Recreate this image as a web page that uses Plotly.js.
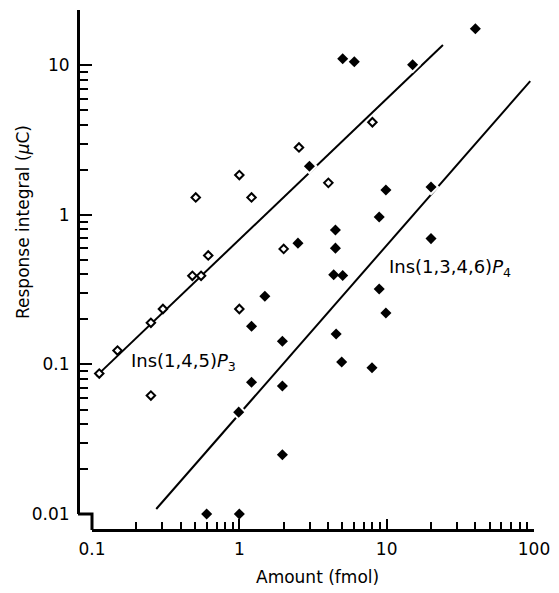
<!DOCTYPE html>
<html>
<head>
<meta charset="utf-8">
<script src="https://cdn.plot.ly/plotly-3.0.1.min.js"></script>
<style>html,body{margin:0;padding:0;background:#fff;}#chart{width:559px;height:593px;}</style>
</head>
<body>
<div id="chart"></div>
<script>
// Ins(1,4,5)P3 — open diamonds
const p3Amount   = [0.112, 0.149, 0.251, 0.303, 0.251, 0.48, 0.55, 0.615, 0.506, 1.0, 1.21, 1.0, 2.0, 2.54, 4.02, 8.0];
const p3Response = [0.087, 0.124, 0.19, 0.235, 0.062, 0.392, 0.392, 0.536, 1.31, 1.85, 1.31, 0.235, 0.593, 2.83, 1.64, 4.17];

// Ins(1,3,4,6)P4 — filled diamonds
const p4Amount   = [40, 5.03, 6.03, 15.0, 2.99, 9.88, 20, 8.9, 4.49, 4.49, 2.5, 20, 4.37, 5.03, 8.9, 1.49, 9.88, 4.54, 4.95, 7.95, 1.96, 1.96, 1.96, 1.21, 1.21, 0.99, 0.6, 1.0];
const p4Response = [17.6, 11.1, 10.6, 10.1, 2.12, 1.47, 1.54, 0.97, 0.794, 0.6, 0.648, 0.695, 0.398, 0.394, 0.32, 0.286, 0.221, 0.16, 0.104, 0.095, 0.143, 0.0717, 0.0249, 0.18, 0.076, 0.048, 0.01, 0.01];

// Regression lines (end points)
const p3FitX = [0.107, 24.1];
const p3FitY = [0.0836, 13.7];
const p4FitX = [0.273, 94.3];
const p4FitY = [0.0108, 7.86];

// Tick labels
const xTickVals = [0.1, 1, 10, 100];
const xTickText = ['0.1', '1', '10', '100'];
const yTickVals = [0.01, 0.1, 1, 10];
const yTickText = ['0.01', '0.1', '1', '10'];

const labelP3 = 'Ins(1,4,5)<i>P</i><sub>3</sub>';
const labelP4 = 'Ins(1,3,4,6)<i>P</i><sub>4</sub>';
const xTitle = 'Amount (fmol)';
const yTitle = 'Response integral (<i>μ</i>C)';

function minorVals(decades) {
  const v = [];
  decades.forEach(d => { for (let k = 2; k <= 9; k++) v.push(+(k * d).toPrecision(3)); });
  return v;
}

const FONT = 'DejaVu Sans, Verdana, sans-serif';
const W = 559, H = 593;
const margin = {l: 78, r: 25, t: 10, b: 63};
const plotW = W - margin.l - margin.r;
const plotH = H - margin.t - margin.b;
const xAxisPx = H - margin.b;          // x axis line (pixel row)
const xDomStart = 14 / plotW;
const yDomStart = 16 / plotH;

const traces = [
  {x: p3FitX, y: p3FitY, mode: 'lines', line: {color: '#000', width: 2}, hoverinfo: 'skip'},
  {x: p4FitX, y: p4FitY, mode: 'lines', line: {color: '#000', width: 2}, hoverinfo: 'skip'},
  // white halo behind filled markers (gaps in the lines)
  {x: p4Amount, y: p4Response, mode: 'markers', cliponaxis: false,
   marker: {symbol: 'diamond', size: 13, color: '#fff'}, hoverinfo: 'skip'},
  {x: p3Amount, y: p3Response, mode: 'markers', name: 'Ins(1,4,5)P3', cliponaxis: false,
   marker: {symbol: 'diamond', size: 6.5, color: '#fff', line: {color: '#000', width: 2}}},
  {x: p4Amount, y: p4Response, mode: 'markers', name: 'Ins(1,3,4,6)P4', cliponaxis: false,
   marker: {symbol: 'diamond', size: 8.5, color: '#000'}}
];

const layout = {
  width: W, height: H,
  margin: margin,
  paper_bgcolor: '#fff', plot_bgcolor: '#fff',
  showlegend: false,
  font: {family: FONT, size: 17, color: '#000'},
  xaxis: {
    type: 'log', range: [-1, 2], domain: [xDomStart, 1],
    anchor: 'free', position: 0,
    showgrid: false, zeroline: false,
    showline: true, linewidth: 3, linecolor: '#000',
    ticks: 'inside', ticklen: 10, tickwidth: 2, tickcolor: '#000',
    tickvals: xTickVals, ticktext: xTickText,
    ticklabelstandoff: 3,
    tickfont: {family: FONT, size: 17, color: '#000'},
    minor: {tickvals: minorVals([0.1, 1, 10]), ticks: 'inside', ticklen: 7, tickwidth: 2, tickcolor: '#000', showgrid: false}
  },
  yaxis: {
    type: 'log', range: [-2, 1.371], domain: [yDomStart, 1],
    anchor: 'free', position: 0,
    showgrid: false, zeroline: false,
    showline: true, linewidth: 3, linecolor: '#000',
    ticks: 'inside', ticklen: 12, tickwidth: 2, tickcolor: '#000',
    tickvals: yTickVals, ticktext: yTickText,
    ticklabelstandoff: 4,
    tickfont: {family: FONT, size: 17, color: '#000'},
    minor: {tickvals: minorVals([0.01, 0.1, 1]), ticks: 'inside', ticklen: 8, tickwidth: 2, tickcolor: '#000', showgrid: false}
  },
  shapes: [
    {type: 'path', xref: 'paper', yref: 'paper',
     path: `M 0 ${yDomStart} L ${xDomStart} ${yDomStart} L ${xDomStart} 0`,
     line: {color: '#000', width: 3}}
  ],
  annotations: [
    {x: Math.log10(0.421), y: Math.log10(0.104), xref: 'x', yref: 'y', text: labelP3, showarrow: false,
     xanchor: 'center', yanchor: 'middle', font: {family: FONT, size: 18, color: '#000'}},
    {x: Math.log10(26.7), y: Math.log10(0.442), xref: 'x', yref: 'y', text: labelP4, showarrow: false,
     xanchor: 'center', yanchor: 'middle', font: {family: FONT, size: 18, color: '#000'}},
    {x: (317 - margin.l) / plotW, y: -(577 - xAxisPx) / plotH, xref: 'paper', yref: 'paper',
     xanchor: 'center', yanchor: 'middle',
     text: xTitle, showarrow: false, font: {family: FONT, size: 17, color: '#000'}},
    {x: (23 - margin.l) / plotW, y: (xAxisPx - 222) / plotH, xref: 'paper', yref: 'paper',
     xanchor: 'center', yanchor: 'middle',
     text: yTitle, textangle: -90, showarrow: false, font: {family: FONT, size: 17, color: '#000'}}
  ]
};

Plotly.newPlot('chart', traces, layout, {staticPlot: true, displayModeBar: false});
</script>
</body>
</html>
